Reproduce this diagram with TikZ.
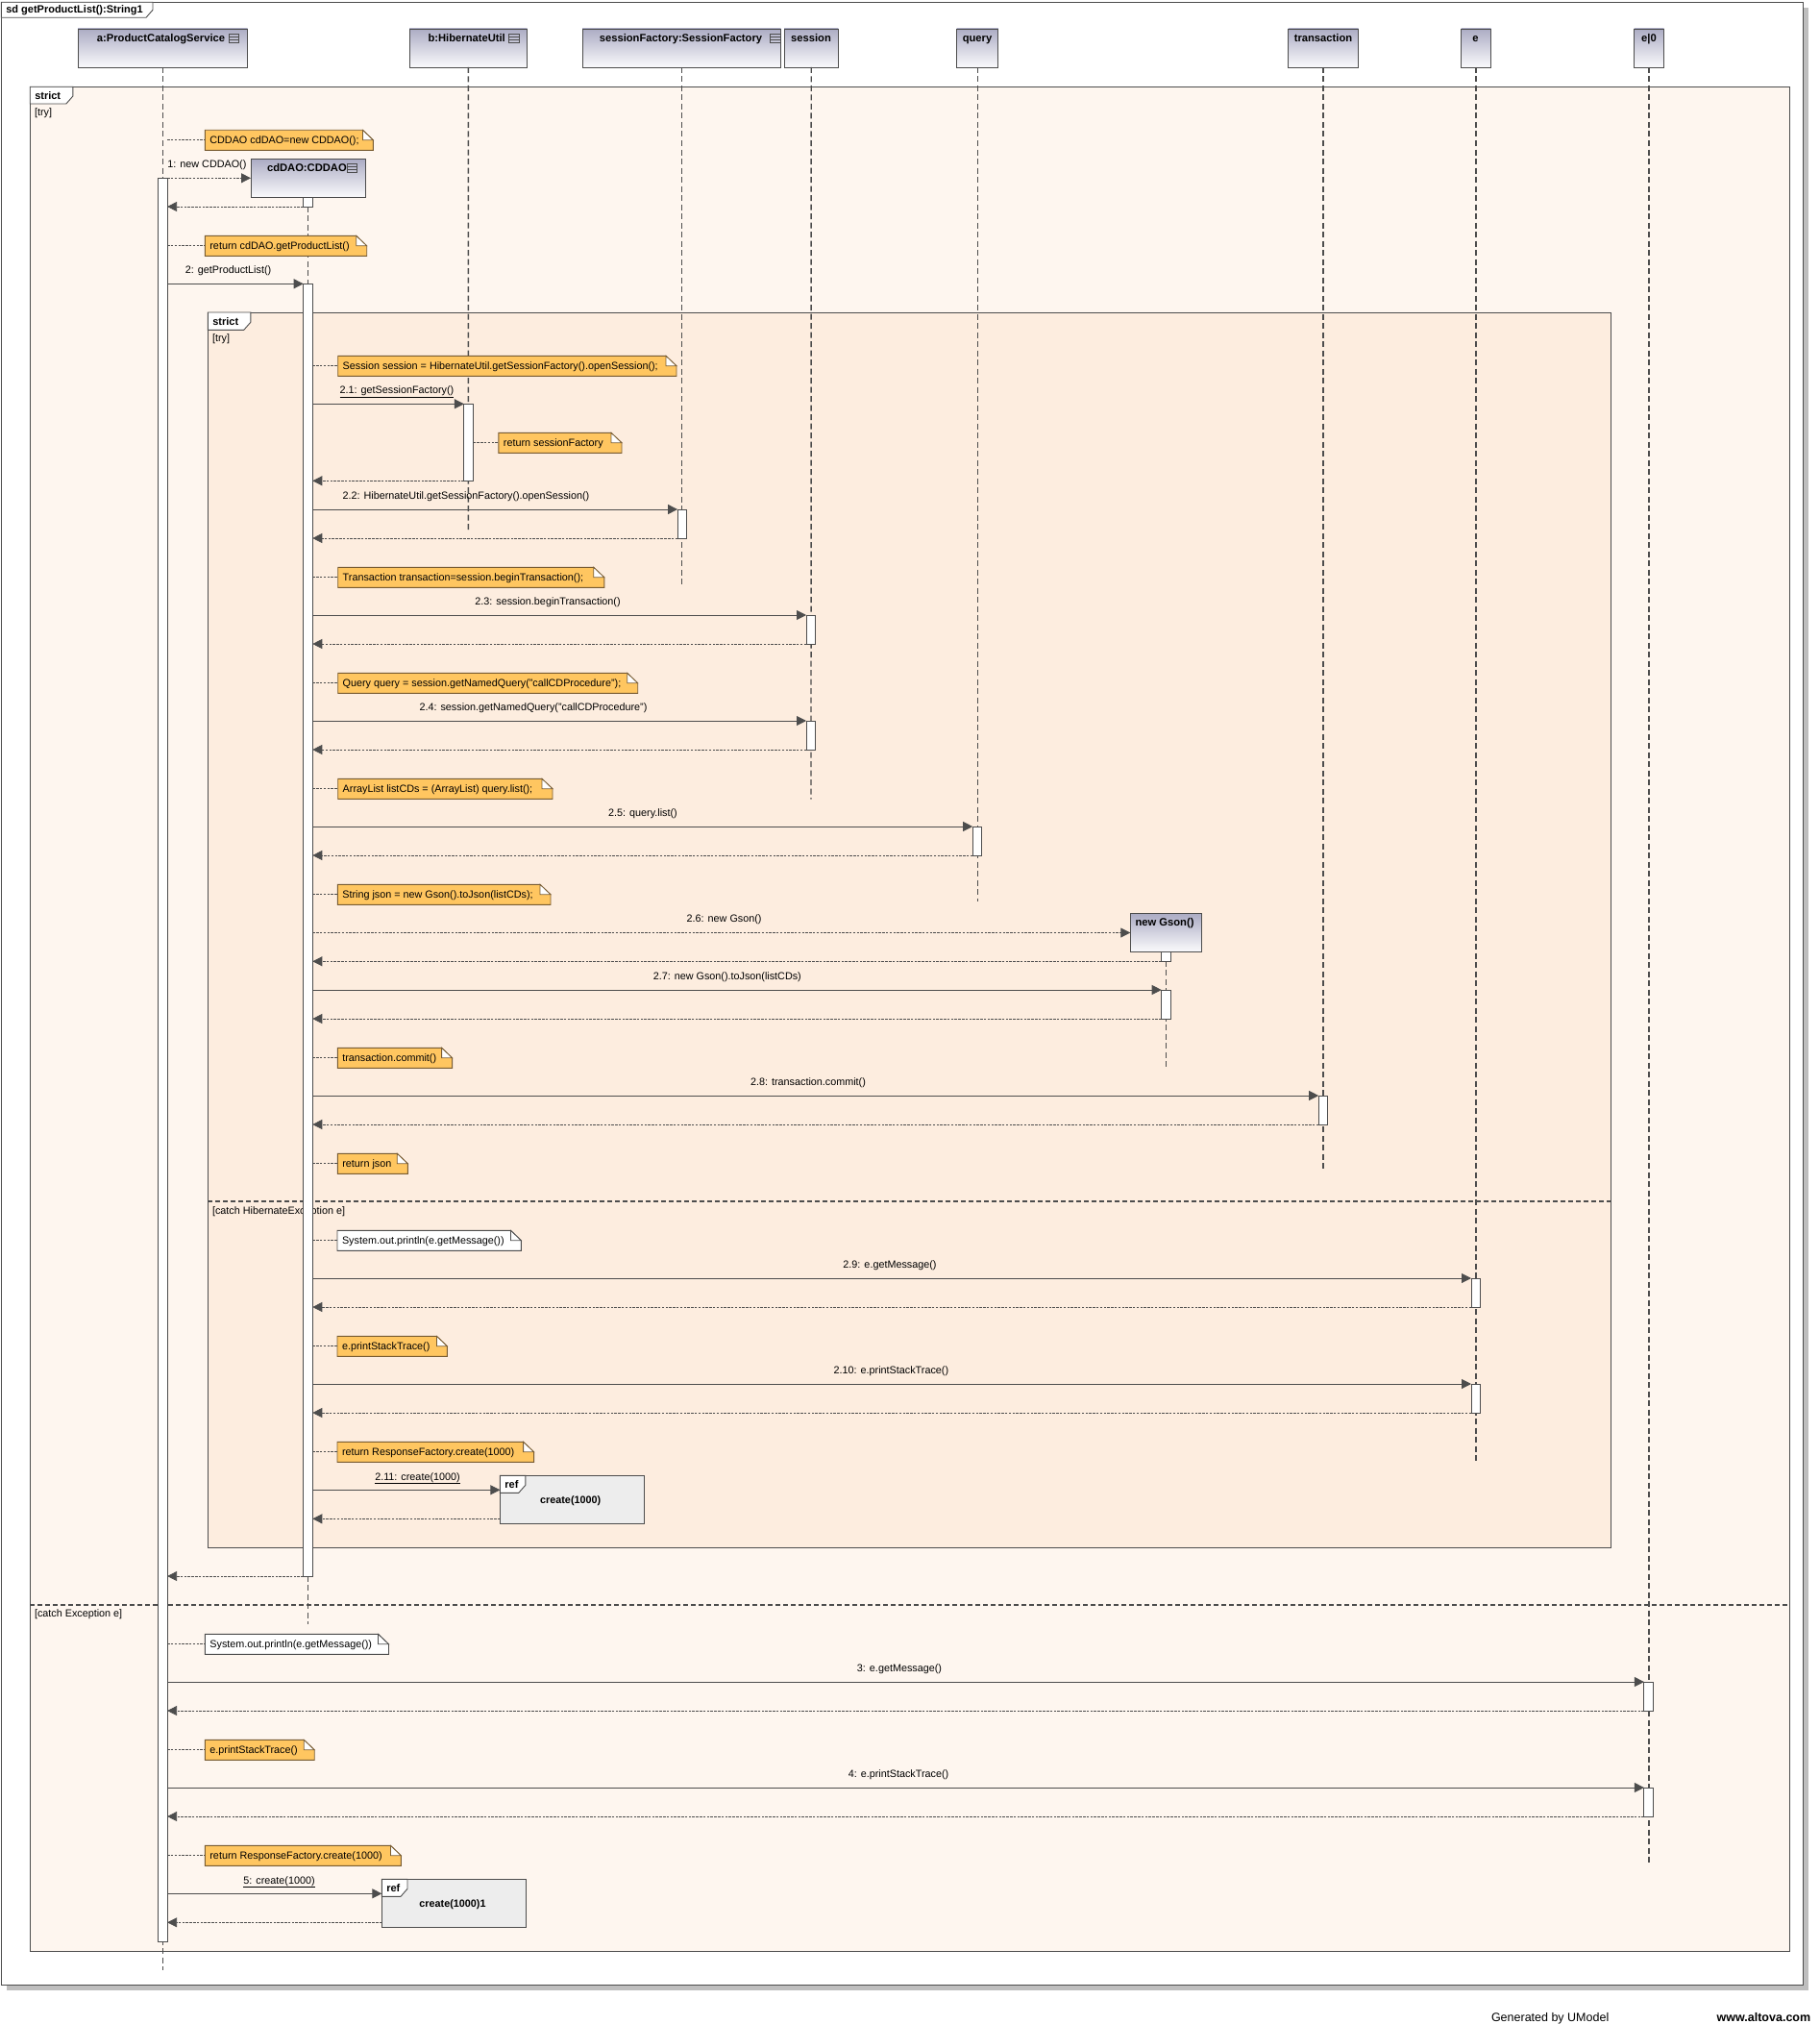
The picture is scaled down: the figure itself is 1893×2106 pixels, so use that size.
\documentclass[tikz,border=0pt]{standalone}
\usepackage{fontspec}
\setmainfont{Liberation Sans}
\usetikzlibrary{arrows.meta}

\definecolor{ink}{RGB}{77,77,77}
\definecolor{outerbg}{RGB}{254,246,239}
\definecolor{innerbg}{RGB}{253,237,223}
\definecolor{notefill}{RGB}{255,198,96}
\definecolor{noteline}{RGB}{120,92,50}
\definecolor{headtop}{RGB}{172,172,196}
\definecolor{headbot}{RGB}{250,250,252}
\definecolor{refbg}{RGB}{237,237,237}
\definecolor{shadowgray}{RGB}{190,190,190}

% note with a folded corner: name, style, x left, y top, x right, text
\newcommand{\umlnote}[6]{%
  \node[anchor=north west, minimum width={#5pt-#3pt}, minimum height=21pt] (#1) at (#3,#4) {};
  \filldraw[#2, line width=0.9pt] (#1.north west) -- ([xshift=-11pt]#1.north east)
     -- ([yshift=-10.5pt]#1.north east) -- (#1.south east) -- (#1.south west) -- cycle;
  \filldraw[#2, fill=white, line width=0.8pt] ([xshift=-11pt]#1.north east)
     -- ([xshift=-11pt,yshift=-10.5pt]#1.north east) -- ([yshift=-10.5pt]#1.north east) -- cycle;
  \node[anchor=base west] (#1t) at ([xshift=5pt,yshift=-14.5pt]#1.north west) {#6};
}
% activation bar: name, x centre, y top, y bottom
\newcommand{\actbar}[4]{%
  \node[act, minimum height={#4pt-#3pt}] (#1) at (#2,#3) {};
}
% small class icon in a lifeline head
\newcommand{\clsicon}[2]{%
  \draw[ink, line width=0.8pt] (#1,#2) rectangle ++(10.5,8.6)
    (#1,#2+2.9) -- ++(10.5,0) (#1,#2+5.8) -- ++(10.5,0);
}
% frame tab with cut corner: name, x1, y1, x2, y2, text
\newcommand{\fragtab}[6]{%
  \filldraw[fill=white, draw=ink, line width=0.9pt] (#2,#3) -- (#4,#3) -- (#4,#5-8)
     -- (#4-7,#5) -- (#2,#5) -- cycle;
  \node[anchor=base west, font=\fontsize{11}{13}\selectfont\bfseries] (#1) at (#2+5,#5-4.5) {#6};
}

\begin{document}
\begin{tikzpicture}[x=1pt,y=-1pt,
  font=\fontsize{10.8}{12}\selectfont,
  every node/.style={inner sep=0pt, outer sep=0pt},
  head/.style={draw=ink, line width=0.9pt, top color=headtop, bottom color=headbot, anchor=north west},
  headlabel/.style={font=\fontsize{11.2}{13}\selectfont\bfseries, anchor=base},
  act/.style={draw=ink, fill=white, line width=0.9pt, minimum width=9.6pt, anchor=north},
  lifeline/.style={draw=ink, line width=1.4pt, dash pattern=on 6pt off 3.5pt},
  call/.style={draw=ink, line width=0.9pt, -{Triangle[length=10pt,width=10pt]}},
  create/.style={draw=ink, line width=0.8pt, dash pattern=on 2.5pt off 1.3pt, -{Triangle[length=10pt,width=10pt]}},
  reply/.style={draw=ink, line width=0.8pt, dash pattern=on 2.5pt off 1.3pt, -{Triangle[length=10pt,width=10pt]}},
  notelink/.style={draw=ink, line width=0.8pt, dash pattern=on 2.5pt off 1.3pt},
  orangenote/.style={fill=notefill, draw=noteline},
  whitenote/.style={fill=white, draw=ink},
  fragment/.style={draw=ink, line width=1pt, anchor=north west},
  sepline/.style={draw=ink, line width=1.4pt, dash pattern=on 5pt off 3pt},
  lbl/.style={anchor=base},
  guard/.style={anchor=base west},
  refbox/.style={draw=ink, fill=refbg, line width=0.9pt, anchor=north west},
]
\useasboundingbox (0,0) rectangle (1893,2106);

% ---------- diagram frame ----------
\fill[shadowgray] (7,8) rectangle (1882,2071);
\node[fragment, fill=white, minimum width={1874.7pt}, minimum height={2063.4pt}] (sdframe) at (1.3,2.3) {};
\fragtab{sdtitle}{1.3}{2.3}{159}{18.3}{sd getProductList():String1}

% ---------- lifeline heads ----------
\node[head, minimum width=176.6pt, minimum height=40pt] (hA) at (81,30) {};
\node[headlabel] (hAt) at (167.5,43.3) {a:ProductCatalogService};
\clsicon{238}{35.7}
\node[head, minimum width=122.7pt, minimum height=40pt] (hB) at (426,30) {};
\node[headlabel] (hBt) at (485.7,43.3) {b:HibernateUtil};
\clsicon{529.5}{35.7}
\node[head, minimum width=206.6pt, minimum height=40pt] (hSF) at (606,30) {};
\node[headlabel] (hSFt) at (708.5,43.3) {sessionFactory:SessionFactory};
\clsicon{801.5}{35.7}
\node[head, minimum width=56.4pt, minimum height=40pt] (hS) at (816,30) {};
\node[headlabel] (hSt) at (844,43.3) {session};
\node[head, minimum width=43.4pt, minimum height=40pt] (hQ) at (995.5,30) {};
\node[headlabel] (hQt) at (1017,43.3) {query};
\node[head, minimum width=73pt, minimum height=40pt] (hT) at (1340.5,30) {};
\node[headlabel] (hTt) at (1377,43.3) {transaction};
\node[head, minimum width=31pt, minimum height=40pt] (hE) at (1520.5,30) {};
\node[headlabel] (hEt) at (1535.5,43.3) {e};
\node[head, minimum width=31pt, minimum height=40pt] (hE0) at (1700.5,30) {};
\node[headlabel] (hE0t) at (1716,43.3) {e|0};

% ---------- combined fragments ----------
\node[fragment, fill=outerbg, minimum width={1830.75pt}, minimum height={1939.7pt}] (fragO) at (31.25,90.3) {};
\fragtab{fragOt}{31.25}{90.3}{75.9}{108}{strict}
\node[guard] (gO1) at (36,120.5) {[try]};
\draw[sepline] (fragO.west |- 0,1670) -- (fragO.east |- 0,1670);
\node[guard] (gO2) at (36,1682.5) {[catch Exception e]};

\node[fragment, fill=innerbg, minimum width={1460.4pt}, minimum height={1285pt}] (fragI) at (216.3,325) {};
\fragtab{fragIt}{216.3}{325}{260.8}{343.3}{strict}
\node[guard] (gI1) at (221,355.5) {[try]};
\draw[sepline] (fragI.west |- 0,1250) -- (fragI.east |- 0,1250);
\node[guard] (gI2) at (221,1263.5) {[catch HibernateException e]};

% ---------- lifelines ----------
\coordinate (endA) at (169.3,2050);
\coordinate (endB) at (487.4,551.7);
\coordinate (endSF) at (709.3,610);
\coordinate (endS) at (844,831.6);
\coordinate (endQ) at (1017.2,938);
\coordinate (endT) at (1377,1218.6);
\coordinate (endE) at (1536,1522);
\coordinate (endE0) at (1716,1938);
\coordinate (endD) at (320.5,1690);
\coordinate (endG) at (1213.5,1112);
\draw[lifeline] (hA.south) -- (endA);
\draw[lifeline] (hB.south) -- (endB);
\draw[lifeline] (hSF.south) -- (endSF);
\draw[lifeline] (hS.south) -- (endS);
\draw[lifeline] (hQ.south) -- (endQ);
\draw[lifeline] (hT.south) -- (endT);
\draw[lifeline] (hE.south) -- (endE);
\draw[lifeline] (hE0.south) -- (endE0);
\draw[lifeline] (320.5,205.3) -- (endD);
\draw[lifeline] (1213.5,990.3) -- (endG);

% ---------- created objects ----------
\node[head, minimum width=119.4pt, minimum height=40pt] (hD) at (261,165.3) {};
\node[headlabel] (hDt) at (319.4,178.3) {cdDAO:CDDAO};
\clsicon{361.3}{170.7}
\node[head, minimum width=74.5pt, minimum height=39.6pt] (hG) at (1176.3,950.7) {};
\node[headlabel] (hGt) at (1212,963) {new Gson()};

% ---------- activation bars ----------
\actbar{actA}{169.3}{185.3}{2020}
\actbar{actD1}{320.5}{205.3}{215}
\actbar{actD2}{320.5}{295.3}{1640}
\actbar{actB}{487.7}{420.3}{500.3}
\actbar{actSF}{709.9}{530}{560}
\actbar{actS1}{843.8}{640}{670}
\actbar{actS2}{843.8}{750}{780}
\actbar{actQ}{1017}{860}{890}
\actbar{actG1}{1213.5}{990.3}{1000.3}
\actbar{actG2}{1213.5}{1030}{1060}
\actbar{actT}{1377}{1140}{1170}
\actbar{actE1}{1535.8}{1330}{1360}
\actbar{actE2}{1535.8}{1440}{1470}
\actbar{actE01}{1715.7}{1750}{1780}
\actbar{actE02}{1715.7}{1860}{1890}

% ---------- notes ----------
\umlnote{n1}{orangenote}{213.4}{135.3}{388.4}{CDDAO cdDAO=new CDDAO();}
\draw[notelink] (actA.east |- n1.west) -- (n1.west);
\umlnote{n2}{orangenote}{213.4}{245.3}{381.7}{return cdDAO.getProductList()}
\draw[notelink] (actA.east |- n2.west) -- (n2.west);
\umlnote{n3}{orangenote}{351.7}{370.3}{704}{Session session = HibernateUtil.getSessionFactory().openSession();}
\draw[notelink] (actD2.east |- n3.west) -- (n3.west);
\umlnote{n4}{orangenote}{518.9}{450.3}{647}{return sessionFactory}
\draw[notelink] (actB.east |- n4.west) -- (n4.west);
\umlnote{n5}{orangenote}{351.7}{590.3}{628.8}{Transaction transaction=session.beginTransaction();}
\draw[notelink] (actD2.east |- n5.west) -- (n5.west);
\umlnote{n6}{orangenote}{351.7}{700.3}{663.7}{Query query = session.getNamedQuery("callCDProcedure");}
\draw[notelink] (actD2.east |- n6.west) -- (n6.west);
\umlnote{n7}{orangenote}{351.7}{810.3}{575}{ArrayList listCDs = (ArrayList) query.list();}
\draw[notelink] (actD2.east |- n7.west) -- (n7.west);
\umlnote{n8}{orangenote}{351.3}{920.3}{573}{String json = new Gson().toJson(listCDs);}
\draw[notelink] (actD2.east |- n8.west) -- (n8.west);
\umlnote{n9}{orangenote}{351.3}{1090.3}{470.6}{transaction.commit()}
\draw[notelink] (actD2.east |- n9.west) -- (n9.west);
\umlnote{n10}{orangenote}{351.3}{1200.3}{424.3}{return json}
\draw[notelink] (actD2.east |- n10.west) -- (n10.west);
\umlnote{n11}{whitenote}{351}{1280.3}{542.4}{System.out.println(e.getMessage())}
\draw[notelink] (actD2.east |- n11.west) -- (n11.west);
\umlnote{n12}{orangenote}{351}{1390.3}{465.4}{e.printStackTrace()}
\draw[notelink] (actD2.east |- n12.west) -- (n12.west);
\umlnote{n13}{orangenote}{351}{1500.3}{555.6}{return ResponseFactory.create(1000)}
\draw[notelink] (actD2.east |- n13.west) -- (n13.west);
\umlnote{n14}{whitenote}{213.4}{1700.3}{404.5}{System.out.println(e.getMessage())}
\draw[notelink] (actA.east |- n14.west) -- (n14.west);
\umlnote{n15}{orangenote}{213.4}{1810.3}{327.2}{e.printStackTrace()}
\draw[notelink] (actA.east |- n15.west) -- (n15.west);
\umlnote{n16}{orangenote}{213.4}{1920.3}{417.4}{return ResponseFactory.create(1000)}
\draw[notelink] (actA.east |- n16.west) -- (n16.west);

% ---------- interaction uses ----------
\node[refbox, minimum width=149.6pt, minimum height=50pt] (ref1) at (520.4,1535.3) {};
\fragtab{ref1t}{520.4}{1535.3}{546.8}{1553.3}{ref}
\node[font=\fontsize{10.8}{12}\selectfont\bfseries] (ref1c) at (593.7,1561.3) {create(1000)};
\node[refbox, minimum width=150.5pt, minimum height=50pt] (ref2) at (397.3,1955.3) {};
\fragtab{ref2t}{397.3}{1955.3}{424}{1973.3}{ref}
\node[font=\fontsize{10.8}{12}\selectfont\bfseries] (ref2c) at (471,1981.3) {create(1000)1};

% ---------- messages ----------
\node[lbl] (l1) at (215.4,174.3) {1: new CDDAO()};
\draw[create] (actA.east |- hD.west) -- (hD.west);
\draw[reply] (actD1.south west) -- (actA.east |- actD1.south);

\node[lbl] (l2) at (237.6,284.5) {2: getProductList()};
\draw[call] (actA.east |- actD2.north) -- (actD2.north west);

\node[lbl] (l21) at (413,409.8) {\underline{2.1: getSessionFactory()}};
\draw[call] (actD2.east |- actB.north) -- (actB.north west);
\draw[reply] (actB.south west) -- (actD2.east |- actB.south);

\node[lbl] (l22) at (485,519.5) {2.2: HibernateUtil.getSessionFactory().openSession()};
\draw[call] (actD2.east |- actSF.north) -- (actSF.north west);
\draw[reply] (actSF.south west) -- (actD2.east |- actSF.south);

\node[lbl] (l23) at (570,629.5) {2.3: session.beginTransaction()};
\draw[call] (actD2.east |- actS1.north) -- (actS1.north west);
\draw[reply] (actS1.south west) -- (actD2.east |- actS1.south);

\node[lbl] (l24) at (555,739.5) {2.4: session.getNamedQuery("callCDProcedure")};
\draw[call] (actD2.east |- actS2.north) -- (actS2.north west);
\draw[reply] (actS2.south west) -- (actD2.east |- actS2.south);

\node[lbl] (l25) at (669,849.5) {2.5: query.list()};
\draw[call] (actD2.east |- actQ.north) -- (actQ.north west);
\draw[reply] (actQ.south west) -- (actD2.east |- actQ.south);

\node[lbl] (l26) at (753.6,959.5) {2.6: new Gson()};
\draw[create] (actD2.east |- hG.west) -- (hG.west);
\draw[reply] (actG1.south west) -- (actD2.east |- actG1.south);

\node[lbl] (l27) at (756.8,1019.5) {2.7: new Gson().toJson(listCDs)};
\draw[call] (actD2.east |- actG2.north) -- (actG2.north west);
\draw[reply] (actG2.south west) -- (actD2.east |- actG2.south);

\node[lbl] (l28) at (841,1129.5) {2.8: transaction.commit()};
\draw[call] (actD2.east |- actT.north) -- (actT.north west);
\draw[reply] (actT.south west) -- (actD2.east |- actT.south);

\node[lbl] (l29) at (926,1319.5) {2.9: e.getMessage()};
\draw[call] (actD2.east |- actE1.north) -- (actE1.north west);
\draw[reply] (actE1.south west) -- (actD2.east |- actE1.south);

\node[lbl] (l210) at (927.4,1429.5) {2.10: e.printStackTrace()};
\draw[call] (actD2.east |- actE2.north) -- (actE2.north west);
\draw[reply] (actE2.south west) -- (actD2.east |- actE2.south);

\node[lbl] (l211) at (434.5,1540) {\underline{2.11: create(1000)}};
\draw[call] (actD2.east |- 0,1550.3) -- (ref1.west |- 0,1550.3);
\draw[reply] (ref1.west |- 0,1580.3) -- (actD2.east |- 0,1580.3);

\draw[reply] (actD2.south west) -- (actA.east |- actD2.south);

\node[lbl] (l3) at (936,1739.5) {3: e.getMessage()};
\draw[call] (actA.east |- actE01.north) -- (actE01.north west);
\draw[reply] (actE01.south west) -- (actA.east |- actE01.south);

\node[lbl] (l4) at (935,1849.5) {4: e.printStackTrace()};
\draw[call] (actA.east |- actE02.north) -- (actE02.north west);
\draw[reply] (actE02.south west) -- (actA.east |- actE02.south);

\node[lbl] (l5) at (290.6,1960) {\underline{5: create(1000)}};
\draw[call] (actA.east |- 0,1970.3) -- (ref2.west |- 0,1970.3);
\draw[reply] (ref2.west |- 0,2000.3) -- (actA.east |- 0,2000.3);

% ---------- footer ----------
\node[anchor=base west, font=\fontsize{12.5}{14}\selectfont] (gen) at (1552,2103.5) {Generated by UModel};
\node[anchor=base west, font=\fontsize{12.5}{14}\selectfont\bfseries] (url) at (1786.7,2103.5) {www.altova.com};
\end{tikzpicture}
\end{document}
